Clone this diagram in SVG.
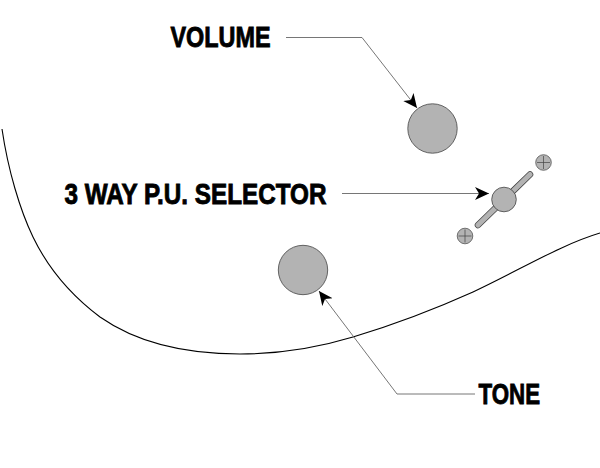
<svg xmlns="http://www.w3.org/2000/svg" width="600" height="468" viewBox="0 0 600 468">
<style>
.knob{fill:#b3b3b3;stroke:#444;stroke-width:.8}
.lead{fill:none;stroke:#666;stroke-width:.9}
.lbl{font-family:"Liberation Sans",Arial,sans-serif;font-weight:700;font-size:30px;fill:#000;stroke:#000;stroke-width:.9}
.screw{fill:#b3b3b3;stroke:#555;stroke-width:.8}
.cross{stroke:#444;stroke-width:.7}
</style>
<defs>
<marker id="arr" markerUnits="userSpaceOnUse" markerWidth="16" markerHeight="14" refX="14" refY="7" orient="auto"><path d="M0 0.500L14 7L0 13.500L4 7Z" fill="#000"/></marker>
</defs>
<rect width="600" height="468" fill="#fff"/>
<path id="body-edge" d="M2 129C8 170 20 210 33 237C48 268 72 296 100 317C140 345 190 354 240 354C280 354 320 347 353 337C393 325 433 310 473 292C520 270 560 245 600 233" fill="none" stroke="#000" stroke-width="1.1"/>
<g id="volume"><circle class="knob" cx="432.500" cy="128.500" r="24.700"/><text class="lbl" x="170.500" y="46.500" textLength="100" lengthAdjust="spacingAndGlyphs">VOLUME</text></g>
<g id="selector">
<line x1="478" y1="225" x2="530" y2="174.500" stroke="#444" stroke-width="6.500" stroke-linecap="round"/>
<line x1="478" y1="225" x2="530" y2="174.500" stroke="#b3b3b3" stroke-width="5" stroke-linecap="round"/>
<circle class="knob" cx="504" cy="199.500" r="12.300"/>
<circle class="screw" cx="543.500" cy="162.500" r="7.800"/><path class="cross" d="M537 162.500H550M543.500 156V169"/>
<circle class="screw" cx="465" cy="236" r="7.800"/><path class="cross" d="M458.500 236H471.500M465 229.500V242.500"/>
<text class="lbl" x="64.500" y="203.500" textLength="262" lengthAdjust="spacingAndGlyphs">3 WAY P.U. SELECTOR</text>
</g>
<g id="tone"><circle class="knob" cx="303" cy="270" r="24.700"/><text class="lbl" x="478.500" y="403.500" textLength="61.500" lengthAdjust="spacingAndGlyphs">TONE</text></g>
<g id="connectors">
<path class="lead" d="M286 37.500H362L417 108" marker-end="url(#arr)"/>
<path class="lead" d="M342 193.500H489" marker-end="url(#arr)" stroke="#999"/>
<path class="lead" d="M475 394H397L319 291" marker-end="url(#arr)"/>
</g>
</svg>
